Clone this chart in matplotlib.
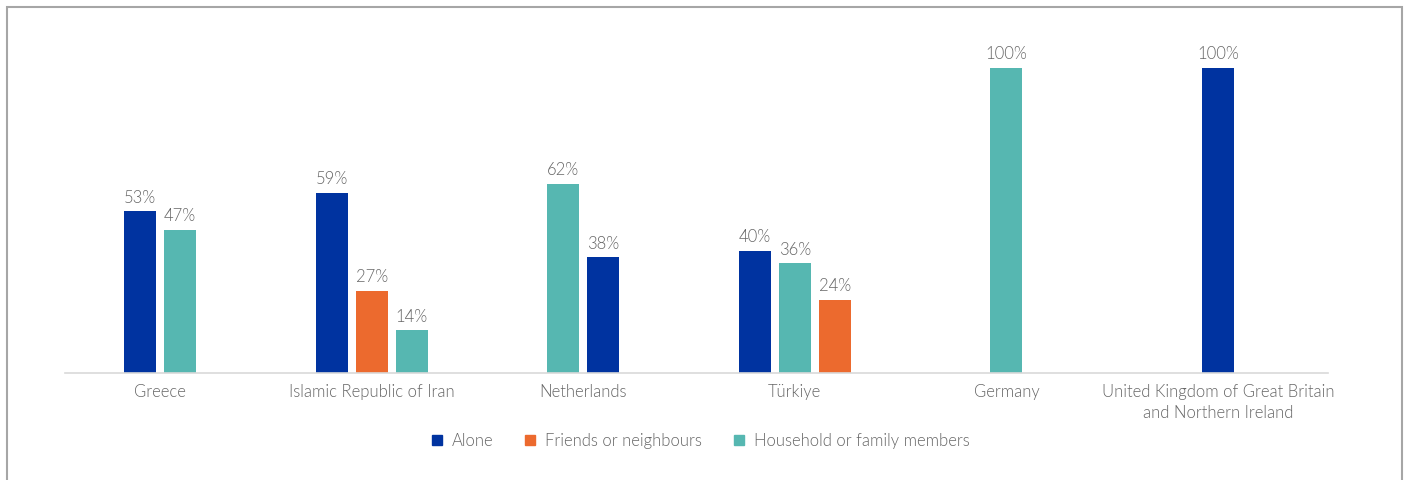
import matplotlib
matplotlib.use("Agg")
import matplotlib.pyplot as plt
from matplotlib.lines import Line2D
from matplotlib.patches import Rectangle
import numpy as np

plt.rcParams['font.family'] = ['Lato', 'DejaVu Sans']
plt.rcParams['font.weight'] = 300

categories = ["Greece", "Islamic Republic of Iran", "Netherlands", "Türkiye", "Germany",
              "United Kingdom of Great Britain\nand Northern Ireland"]
series_names = ["Alone", "Friends or neighbours", "Household or family members"]
alone = [53, 59, 38, 40, None, 100]
friends = [None, 27, None, 24, None, None]
household = [47, 14, 62, 36, 100, None]
colors = ["#0033A0", "#EC6A2E", "#56B7B1"]

text_color = "#666666"

fig = plt.figure(figsize=(14.06, 4.8), dpi=100)
ax = fig.add_axes([65/1406, 1-373/480, (1328-65)/1406, (373-68)/480])

bar_w = 0.151
step = 0.189
series_vals = [alone, friends, household]
for i, cat in enumerate(categories):
    items = [(series_vals[s][i], s) for s in range(3) if series_vals[s][i] is not None]
    items.sort(key=lambda t: -t[0])
    n = len(items)
    for k, (v, s) in enumerate(items):
        x = i + (k - (n - 1) / 2) * step
        ax.bar(x, v, width=bar_w, color=colors[s], zorder=2)
        ax.annotate(f"{v}%", (x, v), xytext=(0, 4), textcoords="offset points",
                    ha="center", va="bottom", fontsize=12, color=text_color)

ax.set_xlim(-0.45, 5.52)
ax.set_ylim(0, 100)
for sp in ["top", "right", "left"]:
    ax.spines[sp].set_visible(False)
ax.spines["bottom"].set_color("#d9d9d9")
ax.spines["bottom"].set_linewidth(1.2)
ax.set_yticks([])
ax.set_xticks(range(len(categories)))
ax.set_xticklabels(categories, fontsize=12, color=text_color, linespacing=1.4)
ax.tick_params(axis="x", length=0, pad=8)

handles = [Line2D([], [], marker="s", linestyle="none", markersize=6.5, color=c) for c in colors]
fig.legend(handles, series_names, loc="center", bbox_to_anchor=(699/1406, 1-441/480),
           ncol=3, frameon=False, fontsize=12, labelcolor=text_color,
           handletextpad=0.4, columnspacing=1.7, handlelength=1.0)

fig.patches.append(Rectangle((7/1406, -0.05), (1402-7)/1406, 1.05 - 7/480,
                             transform=fig.transFigure, fill=False,
                             edgecolor="#a6a6a6", linewidth=1.5))

fig.savefig("out.png", dpi=100, facecolor="white")
